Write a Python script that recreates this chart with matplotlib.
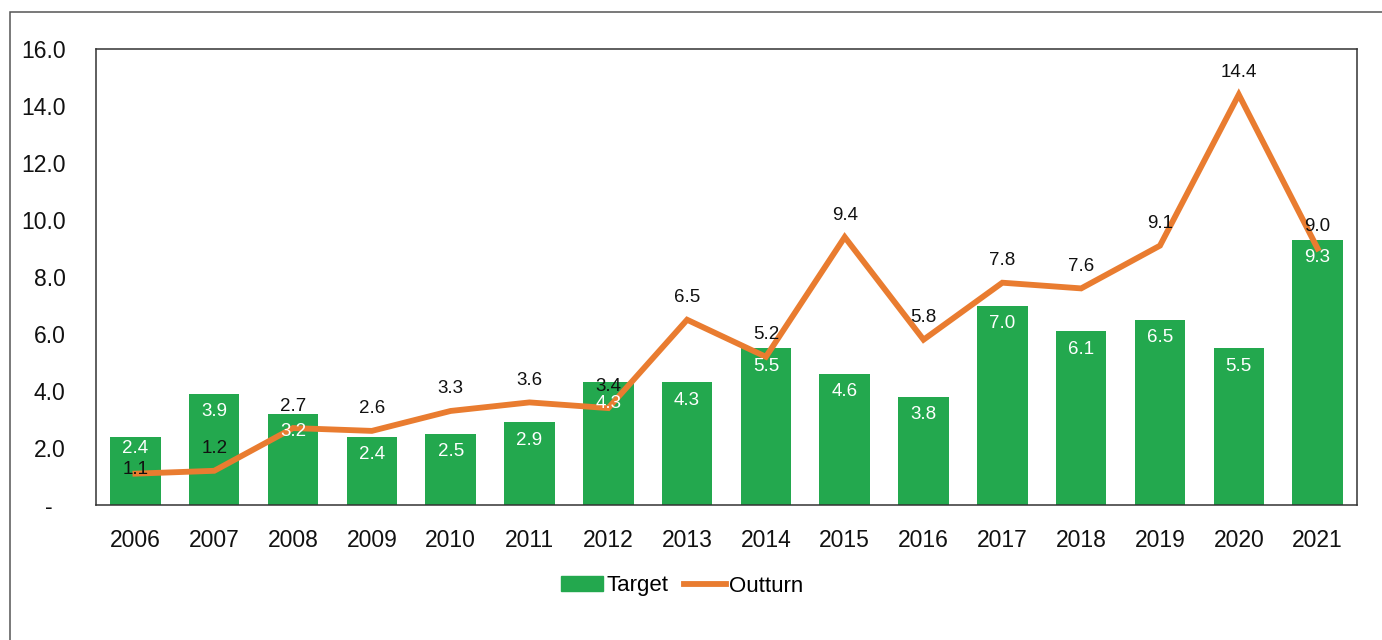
import matplotlib
matplotlib.use("Agg")
import matplotlib.pyplot as plt
from matplotlib.patches import Rectangle, Patch
from matplotlib.lines import Line2D


years = ["2006", "2007", "2008", "2009", "2010", "2011", "2012", "2013",
         "2014", "2015", "2016", "2017", "2018", "2019", "2020", "2021"]
target = [2.4, 3.9, 3.2, 2.4, 2.5, 2.9, 4.3, 4.3, 5.5, 4.6, 3.8, 7.0, 6.1, 6.5, 5.5, 9.3]
outturn = [1.1, 1.2, 2.7, 2.6, 3.3, 3.6, 3.4, 6.5, 5.2, 9.4, 5.8, 7.8, 7.6, 9.1, 14.4, 9.0]
y_ticks = [0, 2, 4, 6, 8, 10, 12, 14, 16]
y_tick_labels = ["-  ", "2.0", "4.0", "6.0", "8.0", "10.0", "12.0", "14.0", "16.0"]

GREEN = "#23a84e"
ORANGE = "#e97c30"

plt.rcParams["font.family"] = ["Liberation Sans", "DejaVu Sans"]


def main():
    fig = plt.figure(figsize=(13.82, 6.40), dpi=100)
    ax = fig.add_axes([96 / 1382, 1 - 505 / 640, (1357 - 96) / 1382, (505 - 49) / 640])

    x = list(range(len(years)))
    ymax = 16

    ax.bar(x, target, width=0.64, color=GREEN, zorder=2)
    ax.plot(x, outturn, color=ORANGE, linewidth=4.2, solid_joinstyle="miter", zorder=3)

    # пиксели на единицу по оси y (dpi=100, 1 px = 0.72 pt)
    px_per_unit = ax.get_position().height * fig.get_figheight() * fig.dpi / ymax
    pt = 0.72

    # подписи: у столбика — внутри у верха, у линии — над точкой;
    # если сталкиваются, раздвигаем
    for xi, tv, ov in zip(x, target, outturn):
        t_c = tv * px_per_unit - 18
        o_c = ov * px_per_unit + 22
        if abs(o_c - t_c) < 17:
            o_low = ov * px_per_unit + 4
            if abs(o_low - t_c) >= 15:
                o_c = o_low
                t_c = tv * px_per_unit - 12
            else:
                t_c = o_c - 17
        ax.annotate(f"{tv:.1f}", (xi, 0), xytext=(0, t_c * pt), textcoords="offset points",
                    ha="center", va="center", color="white", fontsize=13.5, zorder=4)
        ax.annotate(f"{ov:.1f}", (xi, 0), xytext=(0, o_c * pt), textcoords="offset points",
                    ha="center", va="center", color="#111111", fontsize=13.5, zorder=5)

    ax.set_xlim(-0.5, len(years) - 0.5)
    ax.set_ylim(0, ymax)
    ax.set_xticks(x)
    ax.set_xticklabels(years)
    ax.set_yticks(y_ticks)
    ax.set_yticklabels(y_tick_labels)
    ax.tick_params(axis="both", length=0, labelsize=16.5, colors="#111111")
    ax.tick_params(axis="y", pad=22)
    ax.tick_params(axis="x", pad=17)

    for spine in ax.spines.values():
        spine.set_color("#333333")
        spine.set_linewidth(1.1)

    handles = [
        Patch(facecolor=GREEN, edgecolor=GREEN),
        Line2D([0], [0], color=ORANGE, linewidth=4.2),
    ]
    fig.legend(handles, ["Target", "Outturn"], loc="center",
               bbox_to_anchor=(682 / 1382, 1 - 586 / 640), ncol=2, frameon=False,
               fontsize=16, handlelength=1.9, handleheight=0.65, handletextpad=0.15,
               columnspacing=0.7)

    # внешняя рамка (уходит за правый и нижний край)
    fig.add_artist(Rectangle((10 / 1382, -0.5), 2.0, 0.5 + 1 - 12 / 640,
                             transform=fig.transFigure, fill=False,
                             edgecolor="#555555", linewidth=1.1))

    fig.savefig("out.png", dpi=100)
    plt.close(fig)


if __name__ == "__main__":
    main()
